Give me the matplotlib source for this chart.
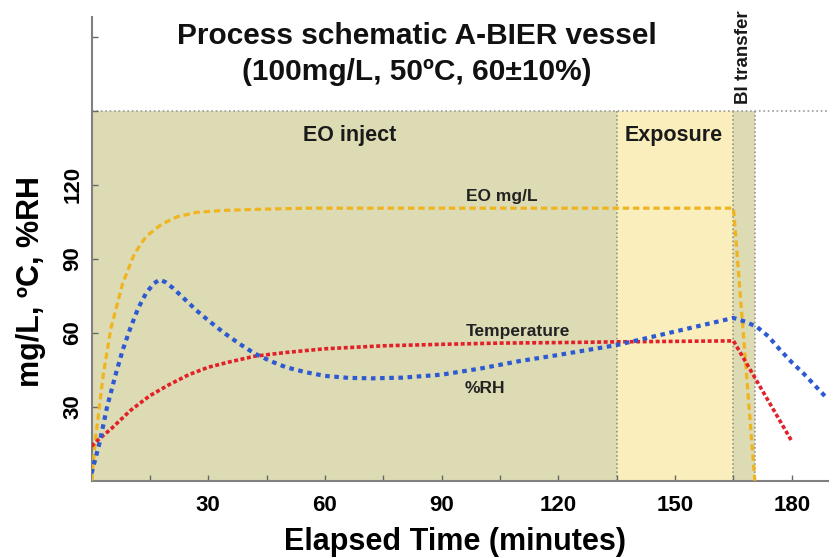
import matplotlib.pyplot as plt

plt.rcParams['font.family'] = ['Liberation Sans', 'DejaVu Sans']

# phases of the cycle (minutes)
phase_names = ['EO inject', 'Exposure', 'BI transfer']
phase_start = [0, 135, 165]
phase_end = [135, 165, 170.5]
phase_colors = ['#DDDBB3', '#F9EEBC', '#DDDBB3']

# EO concentration (mg/L)
time_eo = [0, 1, 3, 5, 8, 11, 14, 18, 22, 27, 34, 42, 55, 135, 165, 170.5]
eo = [0, 17, 43, 62, 80, 92, 99, 104, 107, 108.8, 109.6, 110, 110.5, 110.5, 110.5, 0]

# temperature (C)
time_temp = [0, 2, 5, 10, 15, 20, 25, 30, 35, 42, 50, 60, 75, 90, 105, 120, 135, 165, 180]
temp = [14, 17, 21, 28.5, 34.5, 39, 43, 46, 48, 50.5, 52, 53.5, 54.7, 55.3, 55.8, 56, 56.3, 56.7, 16]

# relative humidity (%RH)
time_rh = [0, 2, 4, 6, 8, 10, 12, 14, 16, 17.5, 19, 21, 24, 27, 30, 34, 38, 42, 46, 50,
           55, 60, 66, 72, 80, 90, 100, 110, 120, 135, 150, 165, 168, 171, 174, 177,
           180, 183, 186, 189]
rh = [3, 15, 30, 42, 53, 62, 70, 76, 80, 81.5, 80.5, 78, 73.5, 69, 65, 60, 55.5, 51.5, 48.5, 46,
      44, 42.5, 41.7, 41.5, 41.8, 43, 45.5, 48.5, 51, 55, 60.5, 66, 64.5, 62.4, 58.5, 53,
      48, 43.5, 38.5, 33.5]

fig = plt.figure(figsize=(8.34, 5.58), dpi=100)
ax = fig.add_axes([0.1098, 0.1385, 0.8830, 0.8310])

for name, s, e, c in zip(phase_names, phase_start, phase_end, phase_colors):
    ax.fill_between([s, e], 0, 150, color=c, lw=0, zorder=0)
ax.vlines([135, 165, 170.5], 0, 150, colors='#8a8a80', linestyles=':', lw=1.1, zorder=1)
ax.axhline(150, color='#999999', ls=':', lw=1.2, zorder=1)

ax.plot(time_eo, eo, color='#F0B41E', lw=2.3, dashes=(2, 1.2), zorder=3)
ax.plot(time_temp, temp, color='#E2202A', lw=2.6, dashes=(1.1, 0.7), zorder=4)
ax.plot(time_rh, rh, color='#2D5AD2', lw=3, dashes=(1.1, 1.1), zorder=5)

ax.text(105.5, 113.4, 'EO mg/L', ha='center', va='baseline', fontsize=12.5, fontweight='bold', color='#222222')
ax.text(109.6, 58.7, 'Temperature', ha='center', va='baseline', fontsize=12.5, fontweight='bold', color='#222222')
ax.text(101.1, 35.4, '%RH', ha='center', va='baseline', fontsize=12.5, fontweight='bold', color='#222222')

ax.text(66.3, 137.8, 'EO inject', ha='center', va='baseline', fontsize=15.5, fontweight='bold', color='#1a1a1a')
ax.text(149.7, 137.8, 'Exposure', ha='center', va='baseline', fontsize=15.5, fontweight='bold', color='#1a1a1a')
ax.text(167.6, 171.7, 'BI transfer', ha='center', va='center', rotation=90, fontsize=13.5,
        fontweight='bold', color='#1a1a1a')

ax.text(83.6, 173.0, 'Process schematic A-BIER vessel\n(100mg/L, 50ºC, 60±10%)', ha='center', va='center',
        fontsize=21.5, fontweight='bold', linespacing=1.32, color='#111111')

ax.set_xlim(0, 189.3)
ax.set_ylim(0, 188)

ax.set_xticks(range(0, 181, 15))
ax.set_xticklabels(['' if (t == 0 or t % 30) else str(t) for t in range(0, 181, 15)])
ax.set_yticks(range(30, 181, 30))
ax.set_yticklabels(['30', '60', '90', '120', '', ''])
ax.tick_params(axis='both', direction='in', length=4, width=1, color='#666666',
               labelsize=16, pad=7)
ax.tick_params(axis='x', pad=10)
ax.tick_params(axis='y', pad=6)
for lab in ax.get_xticklabels() + ax.get_yticklabels():
    lab.set_fontweight('bold')
for lab in ax.get_yticklabels():
    lab.set_rotation(90)
    lab.set_va('center')

for side in ['top', 'right']:
    ax.spines[side].set_visible(False)
for side in ['left', 'bottom']:
    ax.spines[side].set_color('#808080')
    ax.spines[side].set_linewidth(1.5)

ax.set_xlabel('Elapsed Time (minutes)', fontsize=22, fontweight='bold')
ax.set_ylabel('mg/L, ºC, %RH', fontsize=22, fontweight='bold')
ax.xaxis.set_label_coords(0.4935, -0.1)
ax.yaxis.set_label_coords(-0.0825, 0.4285)
ax.xaxis.label.set_va('top')
ax.yaxis.label.set_va('center')

fig.savefig('out.png', dpi=100)
